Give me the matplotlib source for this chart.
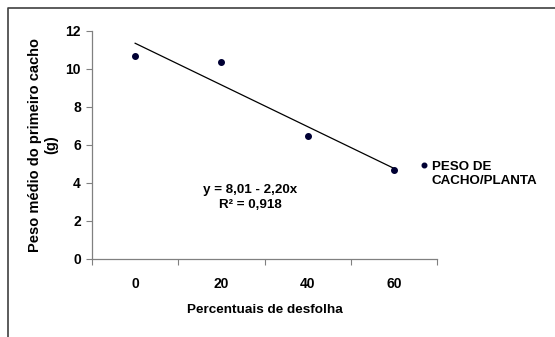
import numpy as np
import matplotlib
matplotlib.use("Agg")
import matplotlib.pyplot as plt
from matplotlib.lines import Line2D

plt.rcParams['font.family'] = ['Liberation Sans', 'DejaVu Sans']
plt.rcParams['font.weight'] = 'bold'
plt.rcParams['axes.labelweight'] = 'bold'

# data
categories = ['0', '20', '40', '60']
peso = [10.7, 10.38, 6.45, 4.7]
equation = 'y = 8,01 - 2,20x\nR² = 0,918'
series_name = 'PESO DE\nCACHO/PLANTA'

fig = plt.figure(figsize=(5.55, 3.37), dpi=100)
ax = fig.add_axes([0.1658, 0.2315, 0.6216, 0.677])

xs = np.arange(1, len(categories) + 1)
ax.plot(xs, peso, 'o', color='#000033', markersize=4, zorder=3)

# linear trend
k, b = np.polyfit(xs, peso, 1)
ax.plot([xs[0], xs[-1]], [k * xs[0] + b, k * xs[-1] + b], color='black', lw=0.9)

ax.set_xlim(0.5, 4.5)
ax.set_ylim(0, 12)
ax.set_yticks(range(0, 13, 2))
ax.set_xticks(xs)
ax.set_xticklabels(categories)
ax.set_xticks(np.arange(0.5, 4.6, 1), minor=True)
ax.tick_params(axis='x', which='major', length=0, pad=13, labelsize=10)
ax.tick_params(axis='x', which='minor', length=4, color='#808080', width=0.8)
ax.tick_params(axis='y', length=4, color='#808080', width=0.8, labelsize=10, pad=4)

for s in ['top', 'right']:
    ax.spines[s].set_visible(False)
for s in ['left', 'bottom']:
    ax.spines[s].set_color('#808080')
    ax.spines[s].set_linewidth(0.9)

ax.set_xlabel('Percentuais de desfolha', fontsize=9.7, labelpad=9)
ax.set_ylabel('Peso médio do primeiro cacho\n(g)', fontsize=10.5, labelpad=5)

ax.text(0.458, 0.27, equation, transform=ax.transAxes, ha='center', va='center',
        fontsize=9.6, linespacing=1.4)

# legend
fig.lines.append(Line2D([424 / 555], [1 - 165 / 337], marker='o', color='#000033',
                        markersize=3.3, transform=fig.transFigure))
fig.text(432 / 555, 1 - 174 / 337, series_name, fontsize=9.6, va='center', ha='left',
         linespacing=1.25)

# outer frame
fig.lines.append(Line2D([8 / 555, 8 / 555, 1.0], [0.0, 1 - 8 / 337, 1 - 8 / 337],
                        color='#404040', lw=1.2, transform=fig.transFigure))

fig.savefig('out.png', dpi=100)
